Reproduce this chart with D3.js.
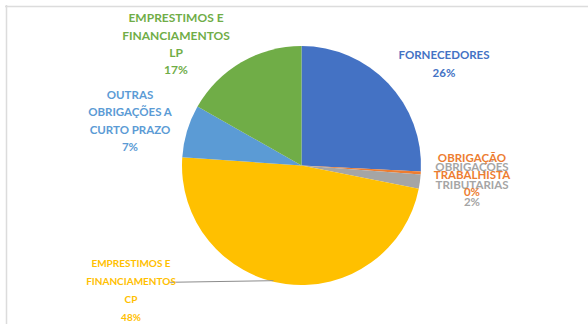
<!DOCTYPE html>
<html>
<head>
<meta charset="utf-8">
<script src="https://cdn.jsdelivr.net/npm/d3@7"></script>
<style>
  html, body { margin: 0; padding: 0; background: #fff; }
  svg { display: block; }
  text { font-family: Lato, "Open Sans", sans-serif; font-weight: bold; }
</style>
</head>
<body>
<svg id="chart" width="588" height="324"></svg>
<script>
// Composition of liabilities (share of total, %)
const categories = [
  "FORNECEDORES",
  "OBRIGAÇÃO TRABALHISTA",
  "OBRIGAÇÕES TRIBUTARIAS",
  "EMPRESTIMOS E FINANCIAMENTOS CP",
  "OUTRAS OBRIGAÇÕES A CURTO PRAZO",
  "EMPRESTIMOS E FINANCIAMENTOS LP"
];
const values = [25.8, 0.4, 1.9, 48.0, 7.1, 16.8];
const colors = ["#4472C4", "#ED7D31", "#A5A5A5", "#FFC000", "#5B9BD5", "#70AD47"];

// Label line breaks for each slice
const labelLines = [
  ["FORNECEDORES"],
  ["OBRIGAÇÃO", "TRABALHISTA"],
  ["OBRIGAÇÕES", "TRIBUTARIAS"],
  ["EMPRESTIMOS E", "FINANCIAMENTOS", "CP"],
  ["OUTRAS", "OBRIGAÇÕES A", "CURTO PRAZO"],
  ["EMPRESTIMOS E", "FINANCIAMENTOS", "LP"]
];

// Label layout: centre x, first line y, line step, font size
const labelLayout = [
  { x: 444, y: 55, step: 18, size: 11.5 },
  { x: 472, y: 158, step: 17, size: 11.5 },
  { x: 472, y: 167, step: 17.5, size: 11.5 },
  { x: 131, y: 263, step: 18.3, size: 10 },
  { x: 130, y: 95, step: 17.4, size: 11.5 },
  { x: 176, y: 18, step: 17.4, size: 12 }
];
// Order in which labels are painted (grey under orange)
const labelOrder = [0, 2, 1, 3, 4, 5];

const svg = d3.select("#chart");
const W = 588, H = 324;

// Chart frame (top and left edges)
svg.append("line").attr("x1", 5).attr("x2", W).attr("y1", 6.5).attr("y2", 6.5)
  .attr("stroke", "#dcdcdc").attr("stroke-width", 1.5);
svg.append("line").attr("x1", 6.5).attr("x2", 6.5).attr("y1", 5).attr("y2", H)
  .attr("stroke", "#dcdcdc").attr("stroke-width", 1.5);

const cx = 301.5, cy = 165.5, R = 119.5;

const pie = d3.pie().sort(null).value(d => d)(values);
const arc = d3.arc().innerRadius(0).outerRadius(R);

const g = svg.append("g").attr("transform", `translate(${cx},${cy})`);
g.selectAll("path").data(pie).join("path")
  .attr("d", arc)
  .attr("fill", (d, i) => colors[i]);

const total = d3.sum(values);
const pct = v => Math.round(v / total * 100) + "%";

// Leader line from the CP label to the edge of its slice
{
  const lay = labelLayout[3];
  const yLine = lay.y + lay.step + 1;
  const edgeDx = -28;
  const edgeY = cy + Math.sqrt(R * R - edgeDx * edgeDx) - 1;
  svg.append("line")
    .attr("x1", lay.x + 38).attr("y1", yLine)
    .attr("x2", cx + edgeDx).attr("y2", edgeY)
    .attr("stroke", "#8c8c8c").attr("stroke-width", 1);
}

// Labels
labelOrder.forEach(i => {
  const lay = labelLayout[i];
  const lines = labelLines[i].concat([pct(values[i])]);
  const t = svg.append("text")
    .attr("text-anchor", "middle")
    .attr("font-size", lay.size)
    .attr("fill", colors[i]);
  lines.forEach((s, k) => {
    t.append("tspan")
      .attr("x", lay.x)
      .attr("y", lay.y + k * lay.step)
      .attr("dy", "0.35em")
      .text(s);
  });
});
</script>
</body>
</html>
